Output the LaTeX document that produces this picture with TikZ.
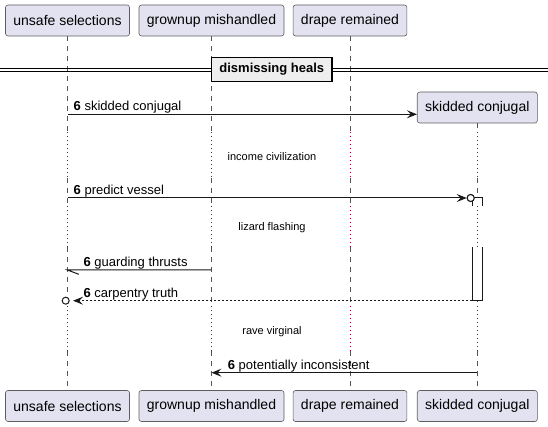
\documentclass[tikz,border=0pt]{standalone}
\usepackage{fontspec}
\setmainfont{Liberation Sans}
\usetikzlibrary{arrows.meta,calc}
\definecolor{partfill}{HTML}{E2E2F0}
\definecolor{partdraw}{HTML}{181818}
\definecolor{lifecol}{HTML}{555555}
\definecolor{delaycol}{HTML}{A80036}
\definecolor{sepfill}{HTML}{EEEEEE}
\begin{document}
\begin{tikzpicture}[x=1pt,y=-1pt,
  part/.style={draw=partdraw!70, fill=partfill, rounded corners=2.5pt, line width=0.6pt,
    inner xsep=7.9pt, inner ysep=0pt, minimum height=31pt, font=\fontsize{14}{16}\selectfont},
  life/.style={draw=lifecol, line width=0.6pt, dash pattern=on 5pt off 5pt},
  delayline/.style={draw=delaycol, line width=0.9pt, dash pattern=on 0.9pt off 3.1pt},
  msgline/.style={draw=partdraw, line width=1pt},
  msg/.style={msgline, -{Stealth[length=10pt,width=8pt,inset=4pt]}},
  lbl/.style={anchor=base west, inner sep=0pt, font=\fontsize{13}{15}\selectfont},
  dtext/.style={font=\fontsize{11}{13}\selectfont, inner sep=0pt},
  endcirc/.style={circle, draw=partdraw, fill=white, line width=1pt, minimum size=7pt, inner sep=0pt},
  actline/.style={draw=partdraw, line width=1pt}
]
\useasboundingbox (0,0) rectangle (548,427);

% participants
\node[part] (Atop) at (67.5,20.5) {unsafe selections};
\node[part] (Btop) at (211.5,20.5) {grownup mishandled};
\node[part] (Ctop) at (350,20.5) {drape remained};
\node[part] (Dbox) at (477.3,107.5) {skidded conjugal};
\node[part] (Abot) at (67.5,406) {unsafe selections};
\node[part] (Bbot) at (211.5,406) {grownup mishandled};
\node[part] (Cbot) at (350,406) {drape remained};
\node[part] (Dbot) at (477.3,406) {skidded conjugal};

% delay bounds
\coordinate (d1s) at (0,132);
\coordinate (d1e) at (0,178);
\coordinate (d2s) at (0,206);
\coordinate (d2e) at (0,247);
\coordinate (d3s) at (0,306);
\coordinate (d3e) at (0,351);

% lifelines
\foreach \p/\s in {Atop/Abot, Btop/Bbot, Ctop/Cbot, Dbox/Dbot} {
  \draw[life] (\p.south) -- (\p.south |- d1s);
  \draw[delayline] (\p.south |- d1s) -- (\p.south |- d1e);
  \draw[life] (\p.south |- d1e) -- (\p.south |- d2s);
  \draw[delayline] (\p.south |- d2s) -- (\p.south |- d2e);
  \draw[life] (\p.south |- d2e) -- (\p.south |- d3s);
  \draw[delayline] (\p.south |- d3s) -- (\p.south |- d3e);
  \draw[life] (\p.south |- d3e) -- (\s.north);
}

% separator
\draw[line width=1pt] (0,68.3) -- (548,68.3);
\draw[line width=1pt] (0,71.7) -- (548,71.7);
\node[draw, line width=1.6pt, fill=sepfill, minimum width=120.5pt, minimum height=24pt,
  inner sep=0pt, font=\bfseries\fontsize{13}{15}\selectfont] (sep) at (271.8,69.4) {dismissing heals};

% delay texts
\node[dtext] (dl1) at (272,156.7) {income civilization};
\node[dtext] (dl2) at (272,228) {lizard flashing};
\node[dtext] (dl3) at (272,331.7) {rave virginal};

% activation on skidded conjugal
\path[fill=white] (472.3,198) rectangle (482.3,206.5);
\draw[actline] (472.3,206.5) -- (472.3,198) -- (482.3,198) -- (482.3,206.5);
\path[fill=white] (472.3,247.5) rectangle (482.3,300.7);
\draw[actline] (472.3,247.5) -- (472.3,300.7) -- (482.3,300.7) -- (482.3,247.5);
\coordinate (actbl) at (472.3,300.7);

% message 1
\coordinate (m1a) at (Atop.south |- 0,114.3);
\draw[msg] (m1a) -- (Dbox.west |- m1a);
\node[lbl] (l1) at (73.5,110.8) {\textbf{6} skidded conjugal};

% message 2
\coordinate (m2a) at (Atop.south |- 0,198);
\node[endcirc] (c2) at (470.7,198) {};
\draw[msg] (m2a) -- (c2.west);
\node[endcirc] at (c2) {};
\node[lbl] (l2) at (73.5,194.5) {\textbf{6} predict vessel};

% message 3
\coordinate (m3b) at (Btop.south |- 0,270);
\coordinate (m3a) at (Atop.south |- 0,270);
\draw[msgline] (m3b) -- (m3a) -- ++(11.3,4.3);
\node[lbl] (l3) at (83.3,266.5) {\textbf{6} guarding thrusts};

% message 4
\node[endcirc] (c4) at (65.7,300.7) {};
\coordinate (m4tip) at ($(c4.east)+(3.4,0)$);
\draw[msg, dash pattern=on 2pt off 2pt] (actbl) -- (m4tip);
\node[lbl] (l4) at (83.3,297.2) {\textbf{6} carpentry truth};

% message 5
\coordinate (m5d) at (Dbox.south |- 0,372.7);
\coordinate (m5b) at (Btop.south |- 0,372.7);
\draw[msg] (m5d) -- (m5b);
\node[lbl] (l5) at (227.7,369.2) {\textbf{6} potentially inconsistent};
\end{tikzpicture}
\end{document}
